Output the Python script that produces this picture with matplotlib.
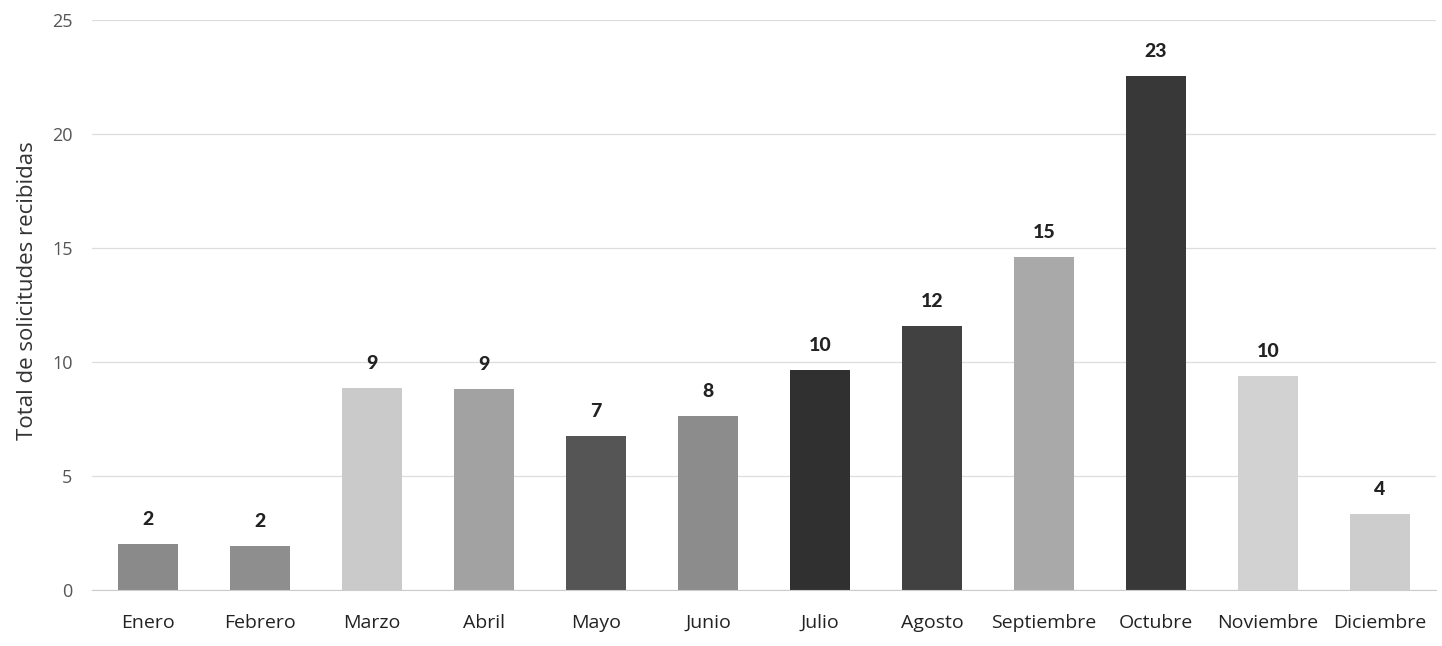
import numpy as np
from matplotlib import pyplot as plt

# Datos
meses = ["Enero", "Febrero", "Marzo", "Abril", "Mayo", "Junio", "Julio",
         "Agosto", "Septiembre", "Octubre", "Noviembre", "Diciembre"]
alturas = [2.0, 1.95, 8.85, 8.8, 6.75, 7.65, 9.65, 11.6, 14.6, 22.55, 9.4, 3.35]
etiquetas = [2, 2, 9, 9, 7, 8, 10, 12, 15, 23, 10, 4]
colores = ["#8a8a8a", "#8e8e8e", "#cacaca", "#a2a2a2", "#555555", "#8c8c8c",
           "#303030", "#414141", "#a9a9a9", "#383838", "#d2d2d2", "#cdcdcd"]

plt.rcParams['font.family'] = ['Open Sans', 'DejaVu Sans']

fig = plt.figure(figsize=(14.42, 6.46), dpi=100)
ax = fig.add_axes([0.0638, 0.0867, 0.932, 0.882])

x = np.arange(len(meses))
ax.bar(x, alturas, width=0.53, color=colores, zorder=2)

#etiquetas de valor sobre cada barra
for xi, h, lab in zip(x, alturas, etiquetas):
    ax.text(xi, h + 0.7, str(lab), ha='center', va='bottom',
            fontsize=14, fontweight='black', color='#222222',
            family=['Lato', 'DejaVu Sans'])

ax.set_xlim(-0.5, len(meses) - 0.5)
ax.set_ylim(0, 25)
ax.set_yticks([0, 5, 10, 15, 20, 25])
ax.set_xticks(x)
ax.set_xticklabels(meses)
ax.tick_params(axis='x', length=0, labelsize=14, labelcolor='#222222', pad=17)
ax.tick_params(axis='y', length=0, labelsize=13, labelcolor='#555555', pad=14)
ax.set_ylabel("Total de solicitudes recibidas", fontsize=16, color='#333333')
ax.yaxis.set_label_coords(-0.04, 0.525)

ax.grid(axis='y', color='#dddddd', linewidth=0.9, zorder=0)
for s in ['top', 'right', 'left']:
    ax.spines[s].set_visible(False)
ax.spines['bottom'].set_color('#cccccc')

plt.savefig("out.png", dpi=100)
